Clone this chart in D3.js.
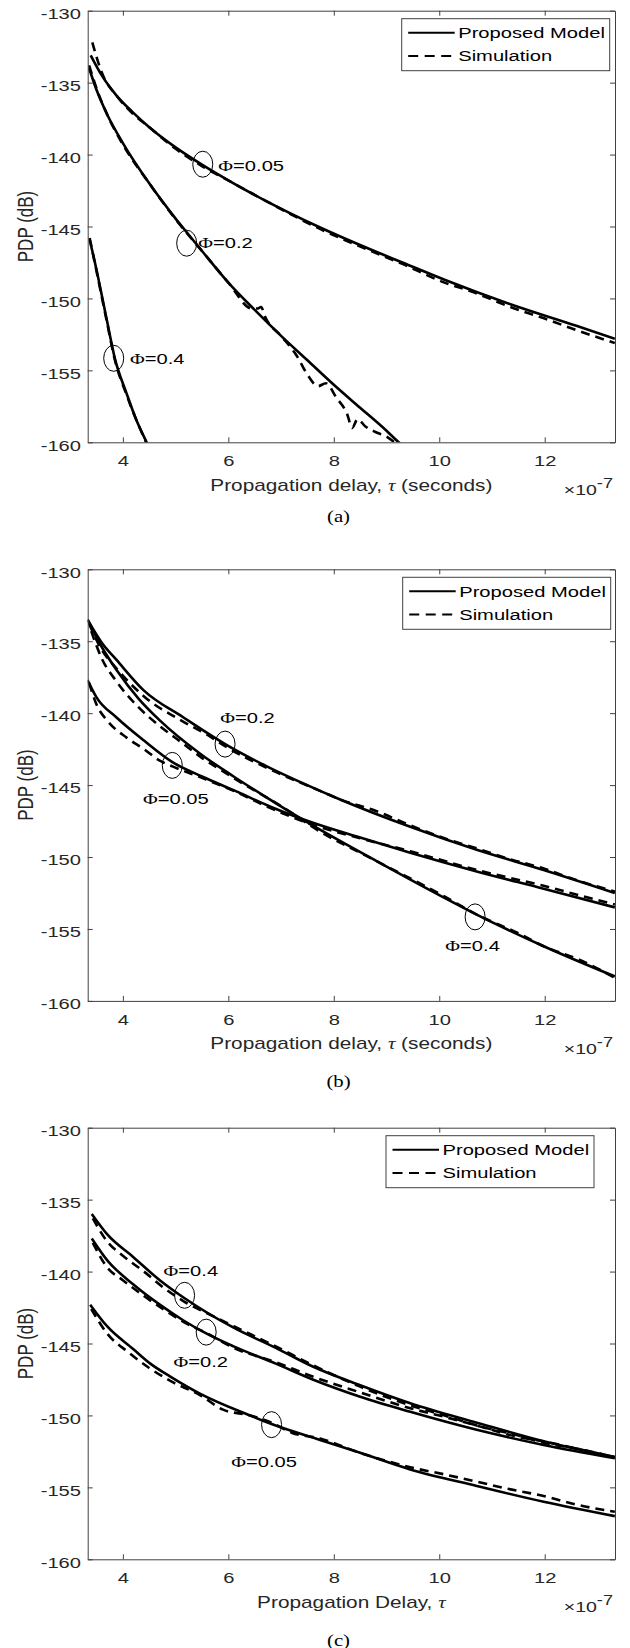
<!DOCTYPE html>
<html>
<head>
<meta charset="utf-8">
<script src="https://cdn.jsdelivr.net/npm/d3@7"></script>
<style>
body { margin: 0; background: #fff; }
</style>
</head>
<body>
<div id="svg-holder"></div>
<script>
// axes (x in units of 1e-7 s)
const xTicks = [4, 6, 8, 10, 12]
const yTicks = [-130, -135, -140, -145, -150, -155, -160]
const xDomain = [3.333, 13.333]
const yDomain = [-160, -130]
const legendLabels = ['Proposed Model', 'Simulation']
const captions = ['(a)', '(b)', '(c)']

// (a)
const aModel005 = [[3.39,-133.1],[3.6,-134.5],[3.88,-135.9],[4.2,-137.1],[4.5,-138.1],[5.0,-139.5],[5.5,-140.7],[6.1,-142.0],[6.7,-143.2],[7.7,-145.0],[8.7,-146.6],[9.3,-147.5],[10.1,-148.7],[11.35,-150.4],[12.6,-151.9],[13.33,-152.8]]
const aSim005 = [[3.42,-132.2],[3.6,-134.3],[3.9,-136.0],[4.2,-137.2],[4.5,-138.1],[5.0,-139.6],[5.5,-140.8],[6.1,-142.0],[6.7,-143.2],[7.7,-145.1],[8.7,-146.7],[9.3,-147.6],[10.1,-148.9],[10.6,-149.5],[11.35,-150.6],[12.0,-151.4],[12.6,-152.2],[13.0,-152.7],[13.33,-153.1]]
const aModel02 = [[3.36,-134.0],[3.5,-135.5],[3.7,-137.2],[4.0,-139.2],[4.5,-142.0],[5.0,-144.45],[5.21,-145.4],[5.5,-146.7],[6.0,-148.9],[6.5,-150.8],[7.0,-152.6],[7.5,-154.3],[8.0,-156.0],[8.5,-157.6],[9.0,-159.2],[9.23,-160],[9.4,-160.5]]
const aSim02 = [[3.36,-133.8],[3.5,-135.4],[3.7,-137.2],[4.0,-139.3],[4.5,-142.0],[5.0,-144.5],[5.5,-146.7],[6.0,-148.9],[6.45,-150.7],[6.55,-150.7],[6.62,-150.6],[6.7,-151.3],[7.0,-152.6],[7.3,-154.0],[7.5,-155.3],[7.7,-156.1],[7.85,-155.9],[8.05,-156.9],[8.25,-158.0],[8.35,-159.0],[8.45,-158.4],[8.6,-158.9],[8.8,-159.3],[9.0,-159.6],[9.15,-160],[9.3,-160.4]]
const aModel04 = [[3.37,-145.9],[3.5,-148.0],[3.69,-151.4],[3.85,-154.2],[4.07,-156.6],[4.25,-158.4],[4.45,-160],[4.5,-160.4]]
const aSim04 = [[3.37,-145.8],[3.5,-148.1],[3.69,-151.5],[3.85,-154.3],[4.07,-156.7],[4.25,-158.4],[4.44,-160],[4.5,-160.5]]
const aNotes = [{phi: '0.05', t: 5.515, v: -140.67}, {phi: '0.2', t: 5.21, v: -146.16}, {phi: '0.4', t: 3.826, v: -154.16}]

// (b)
const bModel02 = [[3.33,-133.5],[3.6,-135.1],[3.88,-136.3],[4.39,-138.4],[5.15,-140.3],[5.94,-142.15],[6.73,-143.7],[7.74,-145.4],[8.12,-146.0],[9.45,-147.9],[10.71,-149.5],[11.98,-150.9],[13.33,-152.5]]
const bSim02 = [[3.36,-133.8],[3.6,-135.6],[3.88,-136.9],[4.39,-138.8],[5.15,-140.6],[5.6,-141.5],[5.94,-142.3],[6.73,-143.8],[7.74,-145.4],[8.12,-146.0],[8.8,-146.8],[9.45,-147.8],[10.1,-148.7],[10.71,-149.4],[11.3,-150.1],[11.98,-150.8],[12.6,-151.6],[13.33,-152.4]]
const bModel04 = [[3.33,-133.5],[3.6,-135.4],[3.88,-137.0],[4.3,-139.0],[4.7,-140.5],[5.46,-142.8],[6.1,-144.4],[6.7,-145.8],[7.23,-147.0],[7.55,-147.7],[8.82,-150.3],[10.08,-152.8],[10.71,-154.0],[11.98,-156.2],[13.33,-158.3]]
const bSim04 = [[3.4,-134.3],[3.6,-136.2],[3.88,-137.8],[4.3,-139.6],[4.7,-140.9],[5.1,-142.0],[5.46,-143.0],[6.1,-144.5],[7.23,-147.0],[7.55,-147.8],[8.82,-150.3],[10.08,-152.7],[10.71,-154.0],[11.5,-155.3],[11.98,-156.2],[12.7,-157.2],[13.33,-158.4]]
const bModel005 = [[3.33,-137.7],[3.5,-138.9],[3.88,-140.3],[4.4,-141.9],[4.94,-143.4],[5.5,-144.4],[6.1,-145.35],[6.8,-146.5],[7.36,-147.3],[7.55,-147.55],[8.5,-148.65],[9.45,-149.7],[10.71,-151.0],[11.98,-152.2],[13.33,-153.5]]
const bSim005 = [[3.36,-137.9],[3.5,-139.4],[3.7,-140.5],[4.07,-141.7],[4.4,-142.5],[4.7,-143.3],[4.94,-143.7],[5.5,-144.5],[6.1,-145.4],[6.8,-146.6],[7.55,-147.7],[8.5,-148.7],[9.45,-149.6],[10.71,-150.9],[11.98,-152.0],[12.7,-152.7],[13.33,-153.3]]
const bNotes = [{phi: '0.2', t: 5.938, v: -142.15}, {phi: '0.05', t: 4.937, v: -143.63}, {phi: '0.4', t: 10.68, v: -154.16}]

// (c)
const cModel04 = [[3.41,-136.0],[3.7,-137.4],[4.2,-139.0],[4.7,-140.6],[5.15,-141.8],[6.1,-143.9],[6.9,-145.3],[7.6,-146.6],[8.5,-147.9],[9.45,-149.15],[10.71,-150.5],[11.98,-151.8],[13.33,-152.9]]
const cSim04 = [[3.43,-136.3],[3.7,-137.9],[4.0,-138.9],[4.4,-140.0],[4.8,-141.2],[5.17,-142.1],[5.6,-142.9],[6.1,-143.8],[6.9,-145.2],[7.6,-146.5],[8.5,-148.0],[9.45,-149.3],[10.1,-150.0],[10.71,-150.7],[11.5,-151.4],[11.98,-151.9],[12.6,-152.3],[13.1,-152.7],[13.33,-152.9]]
const cModel02 = [[3.41,-137.7],[3.7,-139.2],[4.2,-140.9],[4.7,-142.3],[5.15,-143.4],[5.58,-144.3],[6.1,-145.2],[6.9,-146.4],[7.6,-147.5],[8.5,-148.7],[9.45,-149.75],[10.71,-151.0],[11.98,-152.05],[13.33,-152.97]]
const cSim02 = [[3.43,-138.0],[3.7,-139.7],[4.0,-140.6],[4.4,-141.7],[4.8,-142.7],[5.2,-143.6],[5.6,-144.3],[6.1,-145.3],[6.9,-146.3],[7.6,-147.3],[8.5,-148.4],[9.45,-149.5],[10.1,-150.1],[10.71,-150.7],[11.5,-151.5],[11.98,-151.8],[12.6,-152.3],[13.33,-152.9]]
const cModel005 = [[3.38,-142.3],[3.7,-143.8],[4.2,-145.4],[4.52,-146.4],[4.9,-147.3],[5.47,-148.5],[6.41,-150.0],[6.82,-150.6],[7.74,-151.7],[8.5,-152.6],[9.45,-153.75],[10.71,-154.9],[11.98,-156.0],[13.33,-157.0]]
const cSim005 = [[3.4,-142.6],[3.7,-144.3],[4.1,-145.6],[4.5,-146.7],[4.9,-147.6],[5.47,-148.6],[5.9,-149.6],[6.41,-150.0],[6.82,-150.5],[7.2,-151.2],[7.74,-151.6],[8.5,-152.6],[9.45,-153.6],[10.1,-154.1],[10.71,-154.6],[11.3,-155.1],[11.98,-155.6],[12.6,-156.2],[13.33,-156.7]]
const cNotes = [{phi: '0.4', t: 5.17, v: -141.65}, {phi: '0.2', t: 5.58, v: -144.21}, {phi: '0.05', t: 6.82, v: -150.64}]

let width = 630,
    height = 1648
let svg = d3.select('#svg-holder').append('svg')
    .attr('width', width)
    .attr('height', height)
    .style('font-family', '"Liberation Sans", Arial, sans-serif')

const SX = 1.3 // the original figure is stretched sideways
const left = 87.7, right = 615, plotH = 431.6
const axisColor = '#404040', textColor = '#262626'

// label offsets for the ellipse notes: [dx, dy, anchor]
const notePlace = [
    [[15.6, 1.4, 'start'], [11.6, -0.6, 'start'], [16.3, 0.7, 'start']],
    [[22.5, -26.7, 'middle'], [3.6, 33, 'middle'], [-2.5, 28.3, 'middle']],
    [[6.3, -24.3, 'middle'], [-5.5, 29.5, 'middle'], [-7.5, 37, 'middle']]
]

let panels = [
    {top: 10.7, models: [aModel005, aModel02, aModel04], sims: [aSim005, aSim02, aSim04], notes: aNotes, full: true, legendX: 401.7, capY: 80},
    {top: 569.3, models: [bModel02, bModel04, bModel005], sims: [bSim02, bSim04, bSim005], notes: bNotes, full: true, legendX: 402.7, capY: 86},
    {top: 1127.7, models: [cModel04, cModel02, cModel005], sims: [cSim04, cSim02, cSim005], notes: cNotes, full: false, legendX: 386, capY: 86.5}
]

function stretched(g, x, y, anchor, size) {
    return g.append('g')
        .attr('transform', `translate(${x},${y}) scale(${SX},1)`)
        .append('text')
        .attr('text-anchor', anchor)
        .style('font-size', size + 'px')
}

panels.forEach((p, i) => {
    let bottom = p.top + plotH
    let x = d3.scaleLinear().domain(xDomain).range([left, right])
    let y = d3.scaleLinear().domain(yDomain).range([bottom, p.top])
    let g = svg.append('g')

    g.append('clipPath').attr('id', 'clip' + i)
        .append('rect')
        .attr('x', left).attr('y', p.top)
        .attr('width', right - left).attr('height', plotH)

    let line = d3.line()
        .x(d => x(d[0]))
        .y(d => y(d[1]))
        .curve(d3.curveMonotoneX)

    let curves = g.append('g').attr('clip-path', `url(#clip${i})`)
    curves.selectAll('.sim')
        .data(p.sims)
        .enter()
        .append('path')
            .attr('d', line)
            .attr('fill', 'none')
            .attr('stroke', 'black')
            .attr('stroke-width', 2.6)
            .attr('stroke-dasharray', '9,6')
    curves.selectAll('.model')
        .data(p.models)
        .enter()
        .append('path')
            .attr('d', line)
            .attr('fill', 'none')
            .attr('stroke', 'black')
            .attr('stroke-width', 2.6)

    // box with inward ticks
    let xAx = g.append('g')
        .attr('transform', `translate(0,${bottom})`)
        .call(d3.axisBottom(x).tickValues(xTicks).tickSize(-5).tickSizeOuter(0).tickPadding(13).tickFormat(d => String(d)))
    g.append('g')
        .attr('transform', `translate(0,${p.top})`)
        .call(d3.axisTop(x).tickValues(xTicks).tickSize(-5).tickSizeOuter(0).tickFormat(''))
    let yAx = g.append('g')
        .attr('transform', `translate(${left},0)`)
        .call(d3.axisLeft(y).tickValues(yTicks).tickSize(-5).tickSizeOuter(0).tickFormat(d => String(d)))
    g.append('g')
        .attr('transform', `translate(${right},0)`)
        .call(d3.axisRight(y).tickValues(yTicks).tickSize(-5).tickSizeOuter(0).tickFormat(''))

    g.selectAll('.domain, .tick line').attr('stroke', axisColor)
    g.selectAll('.tick text')
        .attr('fill', textColor)
        .style('font-size', '15.5px')
        .style('font-family', '"Liberation Sans", Arial, sans-serif')
    xAx.selectAll('.tick text').attr('transform', `scale(${SX},1)`)
    yAx.selectAll('.tick text')
        .attr('x', -6.7 / SX)
        .attr('dy', '0.5em')
        .attr('transform', `scale(${SX},1)`)

    // axis labels
    let xl = stretched(g, (left + right) / 2, bottom + 48.5, 'middle', 16).attr('fill', textColor)
    xl.append('tspan').text(p.full ? 'Propagation delay, ' : 'Propagation Delay, ')
    xl.append('tspan').text('τ').style('font-family', '"Liberation Serif", serif').style('font-style', 'italic')
    if (p.full) xl.append('tspan').text(' (seconds)')

    let ex = stretched(g, 613, bottom + 52.7, 'end', 15).attr('fill', textColor)
    ex.append('tspan').text('×').style('font-size', '15px')
    ex.append('tspan').text('10')
    ex.append('tspan').text('-7').attr('dy', -6.7).style('font-size', '14px')

    g.append('g')
        .attr('transform', `translate(32.7,${(p.top + bottom) / 2}) scale(${SX},1) rotate(-90)`)
        .append('text')
        .attr('text-anchor', 'middle')
        .attr('fill', textColor)
        .style('font-size', '17px')
        .text('PDP (dB)')

    // ellipse notes
    p.notes.forEach((n, k) => {
        let cx = x(n.t), cy = y(n.v)
        let pl = notePlace[i][k]
        g.append('ellipse')
            .attr('cx', cx).attr('cy', cy)
            .attr('rx', 10).attr('ry', 13)
            .attr('fill', 'none')
            .attr('stroke', 'black')
            .attr('stroke-width', 1)
        let t = stretched(g, cx + pl[0], cy + pl[1], pl[2], 15.5)
            .attr('dy', '0.35em')
            .attr('fill', 'black')
        t.append('tspan').text('Φ').style('font-family', '"Liberation Serif", serif')
        t.append('tspan').text('=' + n.phi)
    })

    // legend
    let lx = p.legendX, ly = p.top + 8
    g.append('rect')
        .attr('x', lx).attr('y', ly)
        .attr('width', 208).attr('height', 52)
        .attr('fill', 'white')
        .attr('stroke', axisColor)
        .attr('stroke-width', 1)
    legendLabels.forEach((name, k) => {
        let ry = ly + 14 + k * 23.3
        g.append('line')
            .attr('x1', lx + 6.5).attr('x2', lx + 53)
            .attr('y1', ry).attr('y2', ry)
            .attr('stroke', 'black')
            .attr('stroke-width', 2)
            .attr('stroke-dasharray', k ? '10,6.5' : null)
        stretched(g, lx + 56.5, ry, 'start', 15.5)
            .attr('dy', '0.35em')
            .attr('fill', 'black')
            .text(name)
    })

    // caption
    stretched(g, 338.5, bottom + p.capY, 'middle', 16)
        .style('font-family', '"Liberation Serif", serif')
        .attr('fill', 'black')
        .text(captions[i])
})
</script>
</body>
</html>
